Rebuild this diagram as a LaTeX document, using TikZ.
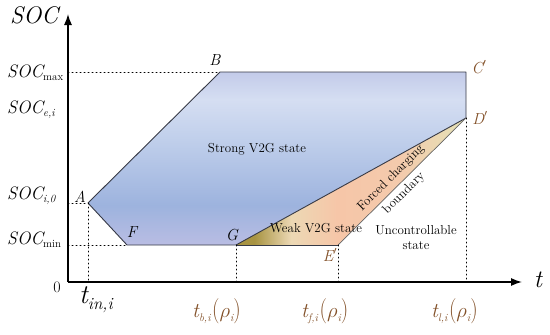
\documentclass[tikz,border=0pt]{standalone}
\usetikzlibrary{arrows.meta}
\definecolor{lab}{RGB}{130,80,40}
\definecolor{bA}{RGB}{185,189,227}
\definecolor{bB}{RGB}{157,179,222}
\definecolor{bC}{RGB}{192,207,235}
\definecolor{bD}{RGB}{213,222,242}
\definecolor{bE}{RGB}{195,203,233}
\definecolor{oA}{RGB}{168,148,66}
\definecolor{oB}{RGB}{236,216,180}
\definecolor{oC}{RGB}{246,198,168}
\definecolor{oD}{RGB}{244,202,172}
\definecolor{oE}{RGB}{228,226,182}
\definecolor{edge}{RGB}{55,58,70}
\pgfdeclareverticalshading{bluesh}{100bp}{color(0bp)=(bA); color(25bp)=(bA); color(36.5bp)=(bB); color(55.5bp)=(bC); color(67bp)=(bD); color(75bp)=(bE); color(100bp)=(bE)}
\pgfdeclarehorizontalshading{orsh}{100bp}{color(0bp)=(oA); color(25bp)=(oA); color(29bp)=(oA); color(37bp)=(oB); color(47bp)=(oC); color(60.5bp)=(oD); color(75bp)=(oE); color(100bp)=(oE)}
\newcommand{\fs}[1]{\rmfamily\fontsize{#1}{#1}\selectfont}
\newcommand{\socl}[1]{{\fs{18}\itshape SOC}\raisebox{-3pt}{\fs{11}#1}}
\newcommand{\tlab}[1]{{\fs{21}\itshape t}\raisebox{-4pt}{\fs{11}\itshape #1}\,{\scalebox{1}[1.2]{\fs{21}(}}{\fs{21}$\rho$}\raisebox{-4pt}{\fs{11}\itshape i}{\scalebox{1}[1.2]{\fs{21})}}}
\tikzset{
  dotl/.style={line width=1pt, dash pattern=on 1pt off 3pt, line cap=round},
  axisl/.style={line width=1.4pt, -{Latex[length=11pt,width=8pt]}},
  edgel/.style={draw=edge, line width=0.9pt, line join=round},
  ptlab/.style={font=\fs{16}\itshape, inner sep=0pt},
  reglab/.style={font=\fs{13}, inner sep=0pt, align=center},
}
\begin{document}
\begin{tikzpicture}[x=1pt,y=-1pt]
\useasboundingbox (0,0) rectangle (550,335);
\coordinate (O) at (68,282);
\coordinate (Ytop) at (68,14);
\coordinate (Xend) at (522,282);
\coordinate (A) at (88,203);
\coordinate (B) at (220,72);
\coordinate (C) at (466,72);
\coordinate (D) at (466,118);
\coordinate (G) at (236,245);
\coordinate (E) at (338,245);
\coordinate (F) at (127,245);
\coordinate (Ymax) at (68,72);
\coordinate (Yi0) at (68,203);
\coordinate (Ymin) at (68,245);
\coordinate (XA) at (88,282);
\coordinate (XG) at (236,282);
\coordinate (XE) at (338,282);
\coordinate (XD) at (466,282);
% regions
\path[shading=bluesh] (A) -- (B) -- (C) -- (D) -- (G) -- (F) -- cycle;
\path[shading=orsh] (G) -- (D) -- (E) -- cycle;
\draw[edgel] (A) -- (B) -- (C) -- (D) -- (G) -- (F) -- cycle;
\draw[draw=gray!80!black, line width=0.7pt] (D) -- (E);
\draw[edgel] (G) -- (E);
% dotted guides
\draw[dotl] (Ymax) -- (B);
\draw[dotl] (Yi0) -- (A);
\draw[dotl] (Ymin) -- (F);
\draw[dotl] (A) -- (XA);
\draw[dotl] (G) -- (XG);
\draw[dotl] (E) -- (XE);
\draw[dotl] (D) -- (XD);
% axes
\draw[axisl] (O) -- (Xend);
\draw[axisl] (O) -- (Ytop);
% axis labels
\node[anchor=base west, inner sep=0pt, font=\fs{24}\itshape] (ysoc) at (10,23) {SOC};
\node[anchor=base west, inner sep=0pt] (smax) at (7,77) {\socl{max}};
\node[anchor=base west, inner sep=0pt] (sei) at (7,113) {\socl{\itshape e,i}};
\node[anchor=base west, inner sep=0pt] (si0) at (7,199) {\socl{\itshape i,0}};
\node[anchor=base west, inner sep=0pt] (smin) at (7,244) {\socl{min}};
\node[font=\fs{16}, inner sep=0pt] (zero) at (57,287) {0};
\node[font=\fs{25}\itshape, inner sep=0pt] (tax) at (538,280) {t};
\node[anchor=base west, inner sep=0pt] (tin) at (79,303) {{\fs{27}\itshape t}\raisebox{-6pt}{\fs{17}\itshape in,i}};
\node[anchor=base west, inner sep=0pt, text=lab] (tb) at (192,317) {\tlab{b,i}};
\node[anchor=base west, inner sep=0pt, text=lab] (tf) at (301,317) {\tlab{f,i}};
\node[anchor=base west, inner sep=0pt, text=lab] (tl) at (431,317) {\tlab{l,i}};
% point labels
\node[ptlab] (lA) at (80,197) {A};
\node[ptlab] (lB) at (215,60) {B};
\node[ptlab, text=lab] (lC) at (479,67) {C$'$};
\node[ptlab, text=lab] (lD) at (480,118) {D$'$};
\node[ptlab] (lF) at (132,232) {F};
\node[ptlab] (lG) at (232,235) {G};
\node[ptlab, text=lab] (lE) at (330,255) {E$'$};
% region labels
\node[reglab] (strong) at (257,149) {Strong V2G state};
\node[reglab] (weak) at (316,228) {Weak V2G state};
\node[reglab, rotate=45] (forced1) at (391,178) {Forced charging};
\node[reglab, rotate=45] (forced2) at (404,193) {boundary};
\node[reglab] (unc1) at (416,230) {Uncontrollable};
\node[reglab] (unc2) at (416,246) {state};
\end{tikzpicture}
\end{document}
